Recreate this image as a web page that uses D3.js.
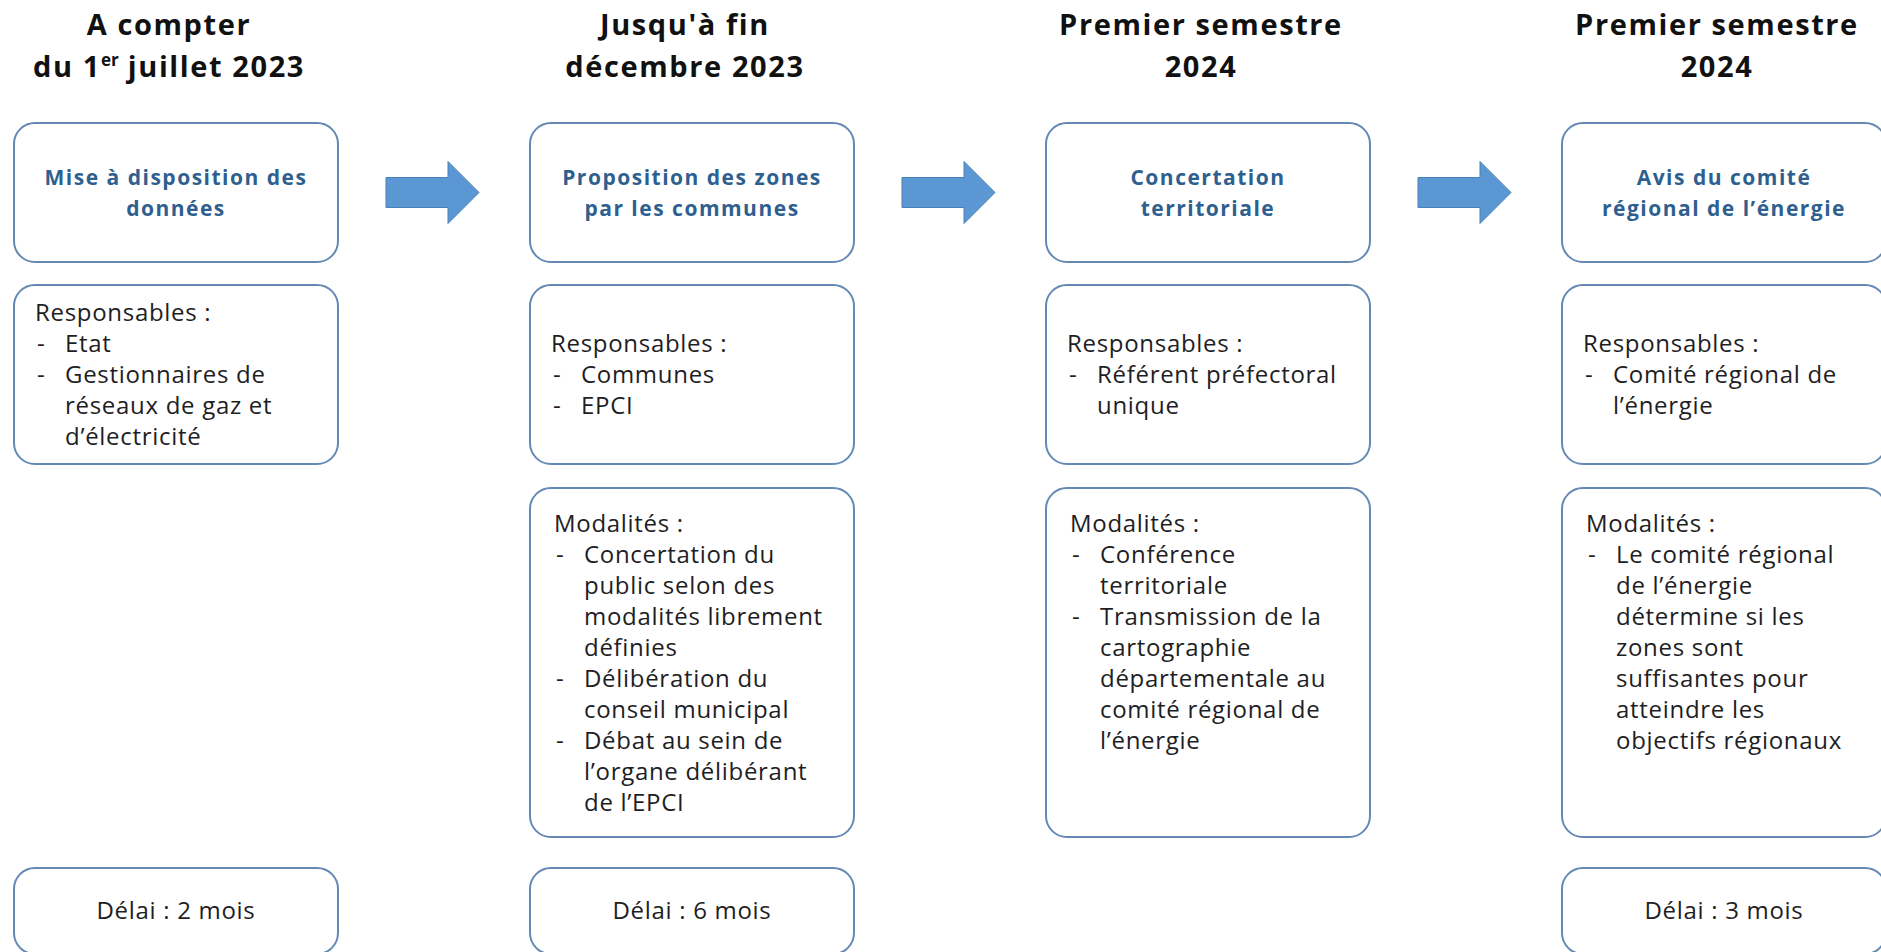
<!DOCTYPE html>
<html>
<head>
<meta charset="utf-8">
<script src="https://cdn.jsdelivr.net/npm/d3@7"></script>
<style>
  body { margin: 0; background: #fff; }
  svg { display: block; font-family: "Open Sans", Lato, sans-serif; }
</style>
</head>
<body>
<div id="timeline"></div>
<script>
// Calendrier des zones d'accélération : 4 étapes, de gauche à droite
//   titre de période / étape / responsables / modalités / délai

const periods = [
  ["A compter", "du 1^er juillet 2023"],
  ["Jusqu'à fin", "décembre 2023"],
  ["Premier semestre", "2024"],
  ["Premier semestre", "2024"]
];

const steps = [
  ["Mise à disposition des", "données"],
  ["Proposition des zones", "par les communes"],
  ["Concertation", "territoriale"],
  ["Avis du comité", "régional de l’énergie"]
];

// one entry per bullet, each bullet already split into its lines
const responsables = [
  [["Etat"], ["Gestionnaires de", "réseaux de gaz et", "d’électricité"]],
  [["Communes"], ["EPCI"]],
  [["Référent préfectoral", "unique"]],
  [["Comité régional de", "l’énergie"]]
];

const modalites = [
  null,
  [["Concertation du", "public selon des", "modalités librement", "définies"],
   ["Délibération du", "conseil municipal"],
   ["Débat au sein de", "l’organe délibérant", "de l’EPCI"]],
  [["Conférence", "territoriale"],
   ["Transmission de la", "cartographie", "départementale au", "comité régional de", "l’énergie"]],
  [["Le comité régional", "de l’énergie", "détermine si les", "zones sont",
    "suffisantes pour", "atteindre les", "objectifs régionaux"]]
];

const delais = ["Délai : 2 mois", "Délai : 6 mois", null, "Délai : 3 mois"];

function drawTimeline() {
  const width = 1881, height = 952;
  const lineH = 31;
  const boxStroke = "#6489b5";
  const blue = "#2f5f8f";
  const ink = "#1e1e24";

  const svg = d3.select("#timeline")
    .append("svg")
    .attr("width", width)
    .attr("height", height);

  // columns
  const x = d3.scaleBand()
    .domain(d3.range(periods.length))
    .range([14, 1886])
    .paddingInner(0.3721)
    .paddingOuter(0);
  const bw = x.bandwidth();

  // rows (top, bottom)
  const rows = {
    step: [123, 262],
    resp: [285, 464],
    moda: [488, 837],
    delai: [868, 954]
  };

  const box = (g, r) => g.append("rect")
    .attr("x", 0).attr("y", r[0])
    .attr("width", bw).attr("height", r[1] - r[0])
    .attr("rx", 21).attr("ry", 21)
    .style("fill", "#fff")
    .style("stroke", boxStroke)
    .style("stroke-width", 2);

  const bodyText = sel => sel
    .style("font-size", "24px")
    .style("letter-spacing", "0.7px")
    .style("fill", ink);

  // bullet list: label, then "-" + indented lines
  function bulletList(g, label, items, x0, x1, firstBase) {
    let y = firstBase;
    const t = g.append("g").call(bodyText);
    t.append("text").attr("x", x0).attr("y", y).text(label);
    items.forEach(item => {
      item.forEach((line, k) => {
        y += lineH;
        if (k === 0) t.append("text").attr("x", x0 + 2).attr("y", y).text("-");
        t.append("text").attr("x", x1).attr("y", y).text(line);
      });
    });
  }
  const nLines = items => 1 + d3.sum(items, d => d.length);

  periods.forEach((period, i) => {
    const col = svg.append("g").attr("transform", `translate(${x(i)},0)`);
    const cx = bw / 2;

    // period title
    period.forEach((line, k) => {
      const t = col.append("text")
        .attr("x", cx - 7)
        .attr("y", 35 + k * 42)
        .attr("text-anchor", "middle")
        .style("font-size", "29px")
        .style("font-weight", "bold")
        .style("letter-spacing", "1.6px")
        .style("fill", "#111");
      const parts = line.split(/\^(\w+)/);
      t.append("tspan").text(parts[0]);
      if (parts.length > 1) {
        t.append("tspan")
          .attr("dy", -11)
          .style("font-size", "17px")
          .style("letter-spacing", "0px")
          .text(parts[1]);
        t.append("tspan").attr("dy", 11).text(parts[2]);
      }
    });

    // step box
    box(col, rows.step);
    const mid = (rows.step[0] + rows.step[1]) / 2;
    steps[i].forEach((line, k) => {
      col.append("text")
        .attr("x", cx)
        .attr("y", mid - (steps[i].length - 1) * lineH / 2 + k * lineH + 7.5)
        .attr("text-anchor", "middle")
        .style("font-size", "21px")
        .style("font-weight", "bold")
        .style("letter-spacing", "1.5px")
        .style("fill", blue)
        .text(line);
    });

    // responsables (centred vertically)
    box(col, rows.resp);
    const rmid = (rows.resp[0] + rows.resp[1]) / 2;
    const rn = nLines(responsables[i]);
    bulletList(col, "Responsables :", responsables[i], 21, 51,
      rmid - (rn - 1) * lineH / 2 + 8);

    // modalités (top aligned)
    if (modalites[i]) {
      box(col, rows.moda);
      bulletList(col, "Modalités :", modalites[i], 24, 54, rows.moda[0] + 44);
    }

    // délai
    if (delais[i]) {
      box(col, rows.delai);
      col.append("text")
        .attr("x", cx)
        .attr("y", 919)
        .attr("text-anchor", "middle")
        .call(bodyText)
        .text(delais[i]);
    }
  });

  // arrows between step boxes
  const ay = (rows.step[0] + rows.step[1]) / 2;
  d3.range(periods.length - 1).forEach(i => {
    const x0 = x(i) + bw + 48, x1 = x(i + 1) - 51;
    const hx = x1 - 31;
    const pts = [
      [x0, ay - 15], [hx, ay - 15], [hx, ay - 31], [x1, ay],
      [hx, ay + 31], [hx, ay + 15], [x0, ay + 15]
    ];
    svg.append("path")
      .attr("d", d3.line()(pts) + "Z")
      .style("fill", "#5b97d2")
      .style("stroke", "#4a80b8")
      .style("stroke-width", 1);
  });
}

drawTimeline();
</script>
</body>
</html>
